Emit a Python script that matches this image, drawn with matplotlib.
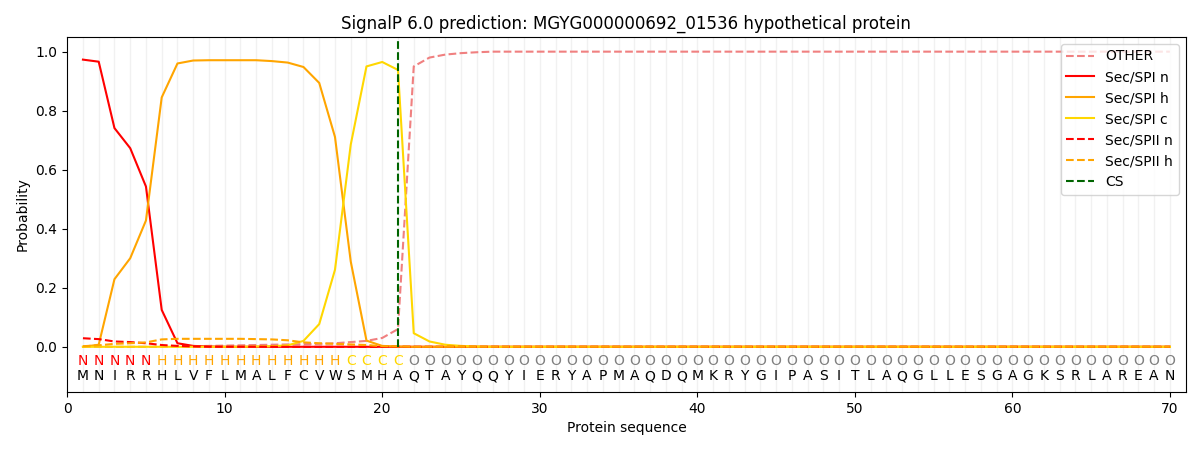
import matplotlib
matplotlib.use("Agg")
import matplotlib.pyplot as plt
import numpy as np

sequence = list("MNIRRHLVFLMALFCVWSMHAQTAYQQYIERYAPMAQDQMKRYGIPASITLAQGLLESGAGKSRLAREAN")
labels = list("NNNNN" + "H" * 12 + "CCCC" + "O" * 49)
n = len(sequence)
pos = np.arange(1, n + 1)

other_head = [0.0, 0.0, 0.0, 0.0, 0.0, 0.0, 0.001, 0.002, 0.003, 0.004, 0.005, 0.006, 0.007,
              0.008, 0.009, 0.010, 0.012, 0.016, 0.020, 0.030, 0.060, 0.950, 0.980, 0.990,
              0.995, 0.998]
other = other_head + [1.0] * (n - len(other_head))

spi_n_head = [0.973, 0.966, 0.741, 0.673, 0.543, 0.125, 0.012, 0.003, 0.001]
spi_n = spi_n_head + [0.0] * (n - len(spi_n_head))

spi_h_head = [0.0, 0.007, 0.229, 0.300, 0.428, 0.845, 0.960, 0.970, 0.971, 0.971, 0.971,
              0.971, 0.968, 0.963, 0.948, 0.894, 0.711, 0.289, 0.021, 0.003, 0.001]
spi_h = spi_h_head + [0.0] * (n - len(spi_h_head))

spi_c_head = [0.0, 0.0, 0.0, 0.0, 0.0, 0.0, 0.0, 0.0, 0.0, 0.0, 0.0, 0.001, 0.002, 0.005,
              0.020, 0.077, 0.261, 0.685, 0.950, 0.965, 0.938, 0.046, 0.018, 0.007, 0.003,
              0.001]
spi_c = spi_c_head + [0.0] * (n - len(spi_c_head))

spii_n_head = [0.029, 0.026, 0.018, 0.016, 0.012, 0.006, 0.003, 0.001]
spii_n = spii_n_head + [0.0] * (n - len(spii_n_head))

spii_h_head = [0.002, 0.005, 0.010, 0.012, 0.015, 0.025, 0.027, 0.027, 0.027, 0.027, 0.027,
               0.026, 0.025, 0.022, 0.015, 0.012, 0.010, 0.008, 0.006, 0.002, 0.001]
spii_h = spii_h_head + [0.0] * (n - len(spii_h_head))

cs_pos = 21

label_colors = {"N": "red", "H": "orange", "C": "gold", "O": "gray"}

fig, ax = plt.subplots(figsize=(12, 4.5), dpi=100)

for p in pos:
    ax.axvline(p, color="#e8e8e8", linewidth=1.0, alpha=0.6, zorder=0)

ax.plot(pos, other, color="lightcoral", linestyle="--", label="OTHER")
ax.plot(pos, spi_n, color="red", label="Sec/SPI n")
ax.plot(pos, spi_h, color="orange", label="Sec/SPI h")
ax.plot(pos, spi_c, color="gold", label="Sec/SPI c")
ax.plot(pos, spii_n, color="red", linestyle="--", label="Sec/SPII n")
ax.plot(pos, spii_h, color="orange", linestyle="--", label="Sec/SPII h")
ax.vlines(cs_pos, 0, 1.035, color="darkgreen", linestyle="--", label="CS")

for p, lab, aa in zip(pos, labels, sequence):
    ax.text(p, -0.047, lab, color=label_colors[lab], ha="center", va="center", fontsize=10)
    ax.text(p, -0.1, aa, color="black", ha="center", va="center", fontsize=10)

ax.set_xlim(0, 71)
ax.set_ylim(-0.153, 1.05)
ax.set_xlabel("Protein sequence")
ax.set_ylabel("Probability")
ax.set_title("SignalP 6.0 prediction: MGYG000000692_01536 hypothetical protein")
ax.legend(loc="upper right")

fig.subplots_adjust(left=0.056, right=0.988, top=0.918, bottom=0.129)
fig.savefig("out.png")
